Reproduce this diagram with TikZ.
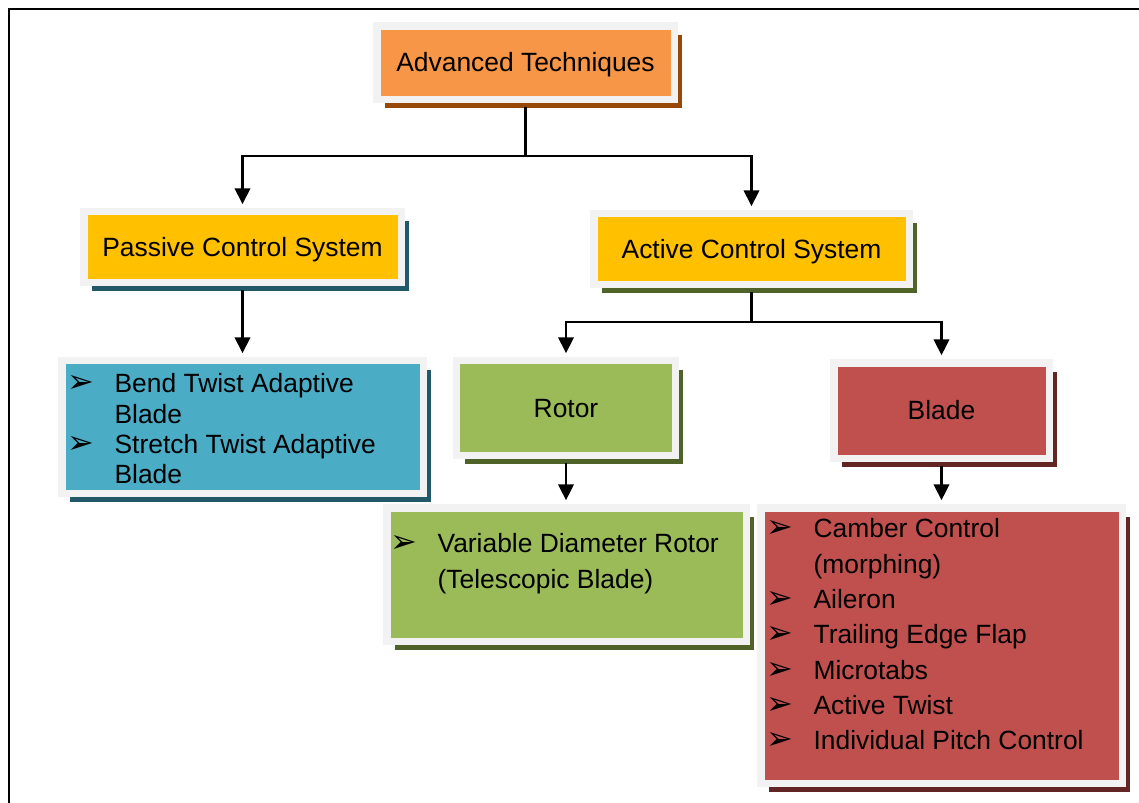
\documentclass[tikz,border=0pt]{standalone}
\usepackage{fontspec}
\setmainfont{Liberation Sans}
\newfontfamily\dingfont{DejaVu Sans}
\usetikzlibrary{arrows.meta,shadows}

\definecolor{panelgray}{HTML}{F2F2F2}
\definecolor{techorange}{HTML}{F79646}
\definecolor{techorangedk}{HTML}{984806}
\definecolor{sysyellow}{HTML}{FFC000}
\definecolor{bendblue}{HTML}{4BACC6}
\definecolor{bendbluedk}{HTML}{215968}
\definecolor{rotorgreen}{HTML}{9BBB59}
\definecolor{rotorgreendk}{HTML}{4F6228}
\definecolor{bladered}{HTML}{C0504D}
\definecolor{bladereddk}{HTML}{632523}

% list bullet and hanging indent
\newcommand{\lbul}{\makebox[35.5pt][l]{\smash{\dingfont\fontsize{24pt}{24pt}\selectfont\char"27A2}}}
\newcommand{\lind}{\hspace*{35.5pt}}

\begin{document}
\begin{tikzpicture}
  [x=0.75pt, y=-0.75pt,
   panel/.style 2 args={fill=#1, draw=panelgray, line width=5.6pt, inner sep=0pt,
     drop shadow={shadow xshift=6pt, shadow yshift=-6.75pt, fill=#2, opacity=1},
     text height=14.2pt, text depth=0pt,
     font=\fontsize{19.8pt}{22.7pt}\selectfont},
   listtext/.style={inner sep=0pt, align=left, anchor=north west},
   link/.style={line width=2pt, -{Triangle[width=11.5pt,length=12pt]},
     shorten <=2.8pt, shorten >=2.8pt}]
  \useasboundingbox (0,0) rectangle (1139,803);
  \draw[line width=1.9pt] (1139,9) -- (9,9) -- (9,803);

  % boxes
  \node[panel={techorange}{techorangedk}, minimum width=223.1pt, minimum height=55.1pt]
    (adv) at (525.5,62.5) {Advanced Techniques};
  \node[panel={sysyellow}{bendbluedk}, minimum width=238.1pt, minimum height=52.9pt]
    (passive) at (242.5,247) {Passive Control System};
  \node[panel={sysyellow}{rotorgreendk}, minimum width=236.6pt, minimum height=52.9pt]
    (active) at (751.5,249) {Active Control System};
  \node[panel={rotorgreen}{rotorgreendk}, minimum width=163.9pt, minimum height=70.9pt]
    (rotor) at (566,408) {Rotor};
  \node[panel={bladered}{bladereddk}, minimum width=161.6pt, minimum height=71.6pt]
    (blade) at (941.5,410.5) {Blade};
  \node[panel={bendblue}{bendbluedk}, minimum width=271.1pt, minimum height=99.4pt]
    (bend) at (242.5,427) {};
  \node[panel={rotorgreen}{rotorgreendk}, minimum width=269.6pt, minimum height=100.1pt]
    (rotorlist) at (566.5,574.5) {};
  \node[panel={bladered}{bladereddk}, minimum width=271.1pt, minimum height=206.6pt]
    (bladelist) at (941.5,645.5) {};

  % list texts
  \node[listtext, font=\fontsize{19.8pt}{22.7pt}\selectfont] (bendtext) at (67,373.5)
    {\lbul Bend Twist Adaptive\\\lind Blade\\\lbul Stretch Twist Adaptive\\\lind Blade};
  \node[listtext, font=\fontsize{19.8pt}{26.4pt}\selectfont] (rotortext) at (390,533.5)
    {\lbul Variable Diameter Rotor\\\lind (Telescopic Blade)};
  \node[listtext, font=\fontsize{19.8pt}{26.5pt}\selectfont] (bladetext) at (766,518.5)
    {\lbul Camber Control\\\lind (morphing)\\\lbul Aileron\\\lbul Trailing Edge Flap\\
     \lbul Microtabs\\\lbul Active Twist\\\lbul Individual Pitch Control};

  % connectors
  \coordinate (topbus) at (525,156);
  \coordinate (actbus) at (751,322);
  \draw[link] (adv.south) -- (adv.south |- topbus) -| (passive.north);
  \draw[link] (adv.south) -- (adv.south |- topbus) -| (active.north);
  \draw[link] (passive.south) -- (bend.north);
  \draw[link] (active.south) -- (active.south |- actbus) -| (rotor.north);
  \draw[link] (active.south) -- (active.south |- actbus) -| (blade.north);
  \draw[link] (rotor.south) -- (rotor.south |- rotorlist.north);
  \draw[link] (blade.south) -- (bladelist.north);
\end{tikzpicture}
\end{document}
